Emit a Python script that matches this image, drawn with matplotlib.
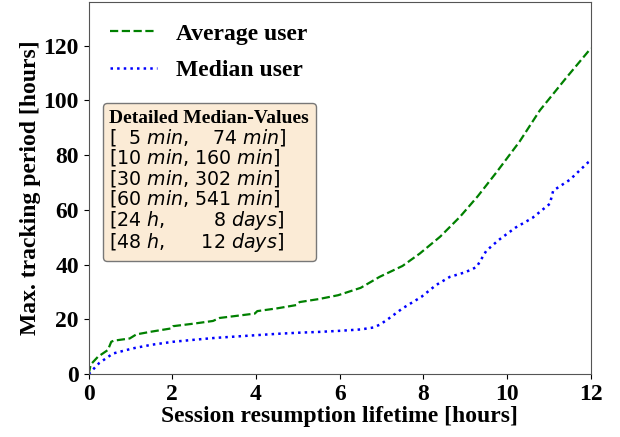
import matplotlib
matplotlib.use('Agg')
import matplotlib.pyplot as plt
import numpy as np

plt.rcParams['font.family'] = ['Liberation Serif', 'DejaVu Serif']
plt.rcParams['mathtext.fontset'] = 'custom'
plt.rcParams['mathtext.rm'] = 'DejaVu Sans'
plt.rcParams['mathtext.it'] = 'DejaVu Sans:italic'

# session resumption lifetime [hours]
avg_x = [0, 0.05, 0.22, 0.46, 0.54, 0.6, 0.98, 1.14, 1.5, 1.98, 2.02, 2.5, 2.97, 3.13,
         3.5, 3.97, 4.03, 4.5, 4.96, 5.04, 5.5, 5.96, 6.5, 6.95, 7.5, 7.91, 8.4,
         8.87, 9.3, 9.75, 10.3, 10.78, 11.4, 12]
avg_y = [0, 3.5, 6.3, 8.8, 11.8, 12.2, 13.0, 14.5, 15.5, 16.7, 17.5, 18.4, 19.4, 20.5,
         21.2, 22.1, 23.0, 24.0, 25.2, 26.3, 27.4, 28.8, 31.5, 35.5, 39.5, 44.0, 50.2,
         57.4, 65.0, 73.8, 85.0, 96.3, 108.0, 119.0]

med_x = [0, 0.25, 0.58, 1.06, 1.5, 2.02, 2.5, 3.01, 3.5, 4.0, 4.5, 5.0, 5.5, 6.0, 6.5,
         6.8, 6.95, 7.12, 7.5, 7.95, 8.3, 8.63, 9.0, 9.27, 9.5, 9.8, 10.2, 10.6, 11.02,
         11.1, 11.5, 11.94, 12]
med_y = [0, 4.0, 7.5, 9.4, 10.7, 11.8, 12.5, 13.2, 13.7, 14.2, 14.7, 15.1, 15.4, 15.8,
         16.3, 17.0, 18.0, 19.7, 24.0, 28.2, 32.5, 35.5, 37.2, 39.1, 45.0, 49.0, 53.5,
         57.0, 62.2, 67.0, 71.0, 77.4, 78.0]

box_title = 'Detailed Median-Values'
box_lines = [
    r'[  5 $min$,    74 $min$]',
    r'[10 $min$, 160 $min$]',
    r'[30 $min$, 302 $min$]',
    r'[60 $min$, 541 $min$]',
    r'[24 $h$,        8 $days$]',
    r'[48 $h$,      12 $days$]',
]

fig = plt.figure(figsize=(6.2, 4.37), dpi=100)
ax = fig.add_axes([0.143, 0.144, 0.81, 0.852])

ax.plot(avg_x, avg_y, color='green', linestyle='--', linewidth=1.6, label='Average user')
ax.plot(med_x, med_y, color='blue', linestyle=':', linewidth=1.8, label='Median user')

ax.set_xlim(0, 12)
ax.set_ylim(0, 136)
ax.set_xticks(np.arange(0, 13, 2))
ax.set_yticks(np.arange(0, 121, 20))
ax.tick_params(labelsize=17)
for lab in ax.get_xticklabels() + ax.get_yticklabels():
    lab.set_fontweight('bold')
for sp in ax.spines.values():
    sp.set_color('#555555')

ax.set_xlabel('Session resumption lifetime [hours]', fontsize=17, fontweight='bold', labelpad=1)
ax.set_ylabel('Max. tracking period [hours]', fontsize=17, fontweight='bold', labelpad=2)

leg = ax.legend(loc='upper left', frameon=False, handlelength=2.0,
                prop={'size': 17, 'weight': 'bold'},
                borderaxespad=0.5, labelspacing=0.65)
ax.add_artist(leg)

# detailed median box as a second legend without handles
blank = plt.Line2D([], [], linestyle='none')
leg2 = ax.legend([blank], ['\n'.join(box_lines)], loc='upper left',
                 bbox_to_anchor=(0.028, 0.728), borderaxespad=0,
                 handlelength=0, handletextpad=0, fancybox=True,
                 prop={'family': 'DejaVu Sans', 'size': 13.7},
                 title=box_title,
                 title_fontproperties={'family': 'Liberation Serif', 'weight': 'bold', 'size': 14},
                 alignment='left', borderpad=0.35, labelspacing=0.0, framealpha=1)
leg2.get_frame().set_facecolor('#fbebd6')
leg2.get_frame().set_edgecolor('#777777')
for t in leg2.get_texts():
    t.set_linespacing(0.97)

fig.savefig('out.png', dpi=100)
